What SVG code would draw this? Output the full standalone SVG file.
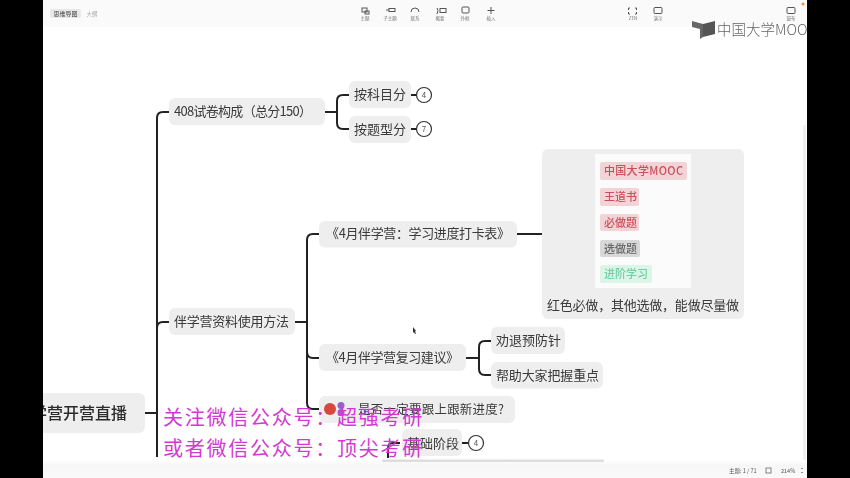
<svg xmlns="http://www.w3.org/2000/svg" width="850" height="478" viewBox="0 0 850 478">
<defs>
<filter id="soft" x="-5%" y="-5%" width="110%" height="110%"><feGaussianBlur stdDeviation="0.45"/></filter>
<filter id="softer" x="-5%" y="-5%" width="110%" height="110%"><feGaussianBlur stdDeviation="0.7"/></filter>
<linearGradient id="bottom" x1="0" y1="0" x2="0" y2="1"><stop offset="0" stop-color="#ffffff"/><stop offset="0.3" stop-color="#f6f6f6"/><stop offset="1" stop-color="#fafafa"/></linearGradient>
</defs>
<style>
text{font-family:"Noto Sans CJK SC","Liberation Sans",sans-serif}
.n{fill:#eeeeee}
.t{fill:#3a3a3a;font-size:13px;dominant-baseline:central}
.c{fill:none;stroke:#222;stroke-width:2;stroke-linecap:butt}
.b{fill:#fff;stroke:#333;stroke-width:1.2}
.bt{fill:#555;font-size:8px;text-anchor:middle;dominant-baseline:central}
.i{fill:none;stroke:#555;stroke-width:1}
.l{fill:#777;font-size:4.5px;text-anchor:middle}
.w{fill:#d238d2;font-size:20px;letter-spacing:1.75px}
.tag{font-size:11px;font-weight:500;dominant-baseline:central}
</style>
<rect width="850" height="478" fill="#fff"/>
<g id="toolbar" filter="url(#softer)">
<rect x="43" y="0" width="764" height="27" fill="#fafafa"/>
<rect x="50" y="9" width="31" height="9" rx="2" fill="#e8e8e8"/>
<text x="65.500" y="15.500" style="font-size:6px;text-anchor:middle;fill:#444">思维导图</text>
<text x="92" y="15.500" style="font-size:5.500px;text-anchor:middle;fill:#aaa">大纲</text>
<rect class="i" x="362" y="8" width="5" height="4"/><rect class="i" x="365" y="11" width="4" height="3"/>
<text class="l" x="365" y="20">主题</text>
<path class="i" d="M386 10h3"/><rect class="i" x="389" y="8.500" width="6" height="3"/>
<text class="l" x="390" y="20">子主题</text>
<path class="i" d="M411 12a4 4 0 0 1 8 0"/>
<text class="l" x="415" y="20">联系</text>
<path class="i" d="M437 8q2 2 0 6"/><rect class="i" x="440" y="8.500" width="6" height="4"/>
<text class="l" x="440" y="20">概要</text>
<rect class="i" x="462" y="7" width="7" height="6" rx="1"/>
<text class="l" x="465" y="20">外框</text>
<path class="i" d="M491 7v7M487.500 10.500h7"/>
<text class="l" x="491" y="20">插入</text>
<path class="i" d="M630 8h-1.500v2M635 8h1.500v2M630 14h-1.500v-2M635 14h1.500v-2"/>
<text class="l" x="633" y="20">ZEN</text>
<rect class="i" x="654" y="7.500" width="8" height="6" rx="1"/>
<text class="l" x="658" y="20">演示</text>
<rect class="i" x="787" y="7.500" width="8" height="6" rx="1"/>
<text class="l" x="791" y="20">窗布</text>
<circle cx="803" cy="4" r="1.500" fill="#f09040"/>
</g>
<rect x="803" y="125" width="3" height="335" fill="#f0f0f0"/>
<g id="connectors" filter="url(#soft)">
<path class="c" d="M169 112H163Q157 112 157 118V457"/>
<path class="c" d="M145 413H157"/>
<path class="c" d="M169 322H163Q157 322 157 328"/>
<path class="c" d="M325 112H337M349 95H343Q337 95 337 101V123Q337 129 343 129H349"/>
<path class="c" d="M411 95H417M411 129H417"/>
<path class="c" d="M295 322H307M319 234H313Q307 234 307 240V403Q307 409 313 409H319M307 352Q307 358 313 358H319"/>
<path class="c" d="M517 234H542"/>
<path class="c" d="M466 358H478M491 341H485Q479 341 479 347V369Q479 375 485 375H491"/>
<path class="c" d="M462 443H469"/>
<path class="c" d="M400 443H393Q388 443 388 448V458"/>
</g>
<g filter="url(#soft)">
<g id="n-root"><rect class="n" x="30" y="393" width="115" height="40" rx="6"/><text x="31" y="412" style="font-size:16px;font-weight:500;fill:#2a2a2a;dominant-baseline:central">学营开营直播</text></g>
<g id="n-408"><rect class="n" x="169" y="98" width="156" height="27" rx="6"/><text class="t" x="174" y="110.500" textLength="138">408试卷构成（总分150）</text></g>
<g id="n-subject"><rect class="n" x="349" y="81" width="62" height="27" rx="6"/><text class="t" x="354" y="93.500">按科目分</text></g>
<g id="n-type"><rect class="n" x="349" y="116" width="62" height="27" rx="6"/><text class="t" x="354" y="128">按题型分</text></g>
<g id="b-4a"><circle class="b" cx="424" cy="95" r="7.500"/><text class="bt" x="424" y="94.500">4</text></g>
<g id="b-7"><circle class="b" cx="424" cy="129" r="7.500"/><text class="bt" x="424" y="128.500">7</text></g>
<g id="n-materials"><rect class="n" x="169" y="308" width="126" height="27" rx="6"/><text class="t" x="174" y="320.500" textLength="115">伴学营资料使用方法</text></g>
<g id="n-checkin"><rect class="n" x="319" y="221" width="198" height="26.500" rx="6"/><text class="t" x="326" y="232.500" textLength="184">《4月伴学营：学习进度打卡表》</text></g>
<g id="n-image">
<rect class="n" x="542" y="149" width="202" height="170" rx="6"/>
<rect x="595" y="154" width="96" height="134" fill="#fbfbfb"/>
<rect x="600" y="162" width="87" height="18" rx="2" fill="#f3d4d6"/><text class="tag" x="604" y="170" fill="#c9505c" textLength="79">中国大学MOOC</text>
<rect x="600" y="188" width="39" height="18" rx="2" fill="#f3d4d6"/><text class="tag" x="604" y="196" fill="#c9505c">王道书</text>
<rect x="600" y="214" width="39" height="17" rx="2" fill="#f3d4d6"/><text class="tag" x="604" y="222" fill="#c9505c">必做题</text>
<rect x="600" y="240" width="40" height="17" rx="2" fill="#d8d8d8"/><text class="tag" x="604" y="247.500" fill="#666">选做题</text>
<rect x="600" y="265" width="52" height="18" rx="2" fill="#dcf5e8"/><text class="tag" x="604" y="273" fill="#6fd0a4">进阶学习</text>
<text class="t" x="547" y="304.500" textLength="192">红色必做，其他选做，能做尽量做</text>
</g>
<g id="n-review"><rect class="n" x="319" y="344" width="147" height="27" rx="6"/><text class="t" x="326" y="356.500" textLength="133">《4月伴学营复习建议》</text></g>
<g id="n-quit"><rect class="n" x="491" y="327" width="74" height="27" rx="6"/><text class="t" x="496" y="339.500">劝退预防针</text></g>
<g id="n-key"><rect class="n" x="491" y="362" width="112" height="26.500" rx="6"/><text class="t" x="496" y="374" textLength="103">帮助大家把握重点</text></g>
<g id="n-follow"><rect class="n" x="319" y="396" width="196" height="27" rx="6"/><circle cx="330" cy="409" r="6" fill="#d8473c"/><circle cx="341" cy="405.500" r="3.500" fill="#9a5fc8"/><circle cx="341" cy="412.500" r="3.500" fill="#9a5fc8"/><text class="t" x="358" y="408.500" style="font-size:12.500px" textLength="146">是否一定要跟上跟新进度?</text></g>
<g id="n-basic"><rect class="n" x="402" y="429" width="60" height="27" rx="6"/><text class="t" x="407" y="442">基础阶段</text></g>
<g id="b-4b"><circle class="b" cx="476" cy="443" r="7.500"/><text class="bt" x="476" y="442.500">4</text></g>
<path d="M413 327l3 4-1 .5 1 2-1 .5-1-2-1 1z" fill="#333"/>
</g>
<rect x="43" y="460" width="764" height="18" fill="url(#bottom)"/>
<rect x="382" y="459.500" width="222" height="2.500" rx="1" fill="#dddddd"/>
<g id="status" filter="url(#softer)">
<text x="729" y="473" style="font-size:5.500px;fill:#555">主题: 1 / 71</text>
<rect x="766" y="468" width="5" height="5" fill="none" stroke="#666" stroke-width="0.800"/>
<text x="781" y="473" style="font-size:5.500px;fill:#555">214%</text>
<path d="M801 469l1-1 1 1M801 472l1 1 1-1" fill="none" stroke="#666" stroke-width="0.700"/>
</g>
<g id="logo" filter="url(#soft)">
<path d="M692 21L703 24V37L700 39V29L692 27Z" fill="#666"/>
<path d="M703 24L715 21V34L703 37Z" fill="#555"/>
<text x="717" y="35" style="font-size:14.500px;fill:#666;font-weight:300">中国大学MOOC</text>
</g>
<rect x="0" y="0" width="43" height="478" fill="#000"/>
<rect x="807" y="0" width="43" height="478" fill="#000"/>
<g id="watermark">
<text class="w" x="163" y="425">关注微信公众号：超强考研</text>
<text class="w" x="163" y="456">或者微信公众号：顶尖考研</text>
</g>
</svg>
